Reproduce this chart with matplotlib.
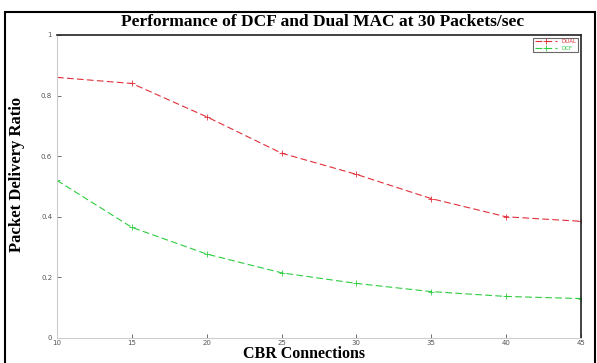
import matplotlib.pyplot as plt
from matplotlib.patches import Rectangle

# data
connections = [10, 15, 20, 25, 30, 35, 40, 45]
dual_pdr = [0.86, 0.84, 0.73, 0.61, 0.54, 0.46, 0.40, 0.385]
dcf_pdr = [0.52, 0.365, 0.277, 0.215, 0.18, 0.153, 0.137, 0.13]
y_ticks = [0, 0.2, 0.4, 0.6, 0.8, 1]
y_tick_labels = ['0', '0.2', '0.4', '0.6', '0.8', '1']

fig = plt.figure(figsize=(5.97, 3.63), dpi=100)
ax = fig.add_axes([0.0955, 0.069, 0.8775, 0.8346])

ax.plot(connections, dual_pdr, color='#e0303a', lw=0.8, dashes=(6, 3),
        marker='+', ms=4, mew=0.6, label='DUAL')
ax.plot(connections, dcf_pdr, color='#2ecc40', lw=0.8, dashes=(6, 3),
        marker='+', ms=4, mew=0.6, label='DCF')

ax.set_xlim(10, 45)
ax.set_ylim(0, 1)
ax.set_xticks(connections)
ax.set_yticks(y_ticks)
ax.set_yticklabels(y_tick_labels)
ax.tick_params(labelsize=5, colors='#555555', length=3, width=0.6, direction='in')
ax.tick_params(axis='x', pad=1.5)

for side in ['top', 'right']:
    ax.spines[side].set_color('#222222')
    ax.spines[side].set_linewidth(1.2)
for side in ['left', 'bottom']:
    ax.spines[side].set_color('#cccccc')
    ax.spines[side].set_linewidth(0.8)

fig.text(0.54, 0.94, 'Performance of DCF and Dual MAC at 30 Packets/sec',
         ha='center', va='center', family='Liberation Serif', weight='bold', fontsize=12.5)
fig.text(0.029, 0.52, 'Packet Delivery Ratio', rotation=90, ha='center', va='center',
         family='Liberation Serif', weight='bold', fontsize=12)
fig.text(0.51, 0.014, 'CBR Connections', ha='center', va='baseline',
         family='Liberation Serif', weight='bold', fontsize=11.5)

leg = ax.legend(loc='upper right', fontsize=4, frameon=True, fancybox=False,
                handlelength=4, borderpad=0.3, labelspacing=0.2)
leg.get_frame().set_edgecolor('#444444')
leg.get_frame().set_linewidth(0.8)
for t, c in zip(leg.get_texts(), ['#e0303a', '#2ecc40']):
    t.set_color(c)

fig.patches.append(Rectangle((0.008, -0.05), 0.988, 1.017, transform=fig.transFigure,
                             fill=False, edgecolor='black', lw=1.5))

fig.savefig('out.png', dpi=100)
